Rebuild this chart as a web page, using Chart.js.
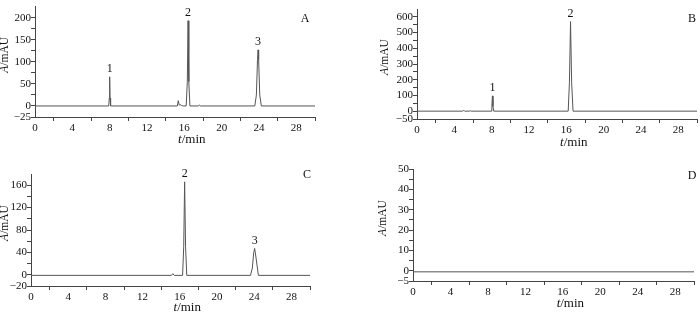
<!DOCTYPE html>
<html>
<head>
<meta charset="utf-8">
<script src="https://cdn.jsdelivr.net/npm/chart.js@4.4.1/dist/chart.umd.min.js"></script>
<style>
  body { margin: 0; background: #fff; }
  #wrap { position: relative; width: 700px; height: 313px; overflow: hidden; background: #fff; }
  canvas { position: absolute; }
  .tag { position: absolute; font: 12px "Liberation Serif", serif; color: #111; transform: translate(-50%, -50%); }
</style>
</head>
<body>
<div id="wrap">
  <canvas id="cA" width="332" height="150" style="left:-2px;top:0px"></canvas>
  <canvas id="cB" width="324" height="150" style="left:376px;top:0px"></canvas>
  <canvas id="cC" width="330" height="158" style="left:-2px;top:155px"></canvas>
  <canvas id="cD" width="324" height="158" style="left:376px;top:155px"></canvas>
  <div class="tag" style="left:305px;top:18px">A</div>
  <div class="tag" style="left:692px;top:18px">B</div>
  <div class="tag" style="left:307px;top:174px">C</div>
  <div class="tag" style="left:692px;top:175px">D</div>
</div>
<script>
// retention time (min) and absorbance (mAU)
const timesA  = [0, 7.9, 7.96, 8.0, 8.04, 8.1, 15.25, 15.35, 15.45, 15.55, 15.7, 15.9, 16.2, 16.32, 16.4, 16.48, 16.6, 17.5, 17.6, 17.7, 23.55, 23.72, 23.84, 23.9, 23.96, 24.08, 24.25, 30];
const valuesA = [0, 0, 18, 66, 18, 0, 0, 12, 2, 3, 1, 0, 0, 55, 193, 55, 0, 0, 2, 0, 0, 25, 105, 127, 105, 25, 0, 0];

const timesB  = [0, 4.9, 5.0, 5.1, 5.6, 5.7, 5.8, 7.95, 8.02, 8.08, 8.14, 8.22, 16.2, 16.33, 16.45, 16.57, 16.72, 30];
const valuesB = [0, 0, 6, 0, 0, 3, 0, 0, 30, 97, 30, 0, 0, 180, 570, 180, 0, 0];

const timesC  = [0, 15.1, 15.25, 15.4, 16.3, 16.42, 16.52, 16.62, 16.75, 23.6, 23.8, 23.95, 24.05, 24.2, 24.45, 30];
const valuesC = [-1, -1, 2, -1, -1, 50, 166, 50, -1, -1, 12, 40, 47, 30, -1, -1];

const timesD  = [0, 30];
const valuesD = [-0.5, -0.5];

// peak numbers
const peakNamesA = ['1', '2', '3'];
const peakTimesA = [8.0, 16.4, 23.9];
const peakTopsA  = [66, 193, 127];
const peakNamesB = ['1', '2'];
const peakTimesB = [8.08, 16.45];
const peakTopsB  = [97, 570];
const peakNamesC = ['2', '3'];
const peakTimesC = [16.52, 24.05];
const peakTopsC  = [166, 47];

// axis ticks
const xTickMarks = [0, 2, 4, 6, 8, 10, 12, 14, 16, 18, 20, 22, 24, 26, 28, 30];
const xTickLabels = [0, 4, 8, 12, 16, 20, 24, 28];
const yTickMarksA = [-25, 0, 25, 50, 75, 100, 125, 150, 175, 200];
const yTickLabelsA = [-25, 0, 50, 100, 150, 200];
const yTickMarksB = [-50, 0, 50, 100, 150, 200, 250, 300, 350, 400, 450, 500, 550, 600];
const yTickLabelsB = [-50, 0, 100, 200, 300, 400, 500, 600];
const yTickMarksC = [-20, 0, 20, 40, 60, 80, 100, 120, 140, 160];
const yTickLabelsC = [-20, 0, 40, 80, 120, 160];
const yTickMarksD = [-5, 0, 5, 10, 15, 20, 25, 30, 35, 40, 45, 50];
const yTickLabelsD = [-5, 0, 10, 20, 30, 40, 50];

const SERIF = '"Liberation Serif", serif';
const FONT = { family: SERIF, size: 11 };
const INK = '#111';
const AXIS = '#444';
const NONE = 'rgba(0,0,0,0)';

// draws a string made of an italic part followed by an upright part, centred on 0,0
function mixedText(ctx, ital, rest, size) {
  ctx.font = 'italic ' + size + 'px ' + SERIF;
  const w1 = ctx.measureText(ital).width;
  ctx.font = size + 'px ' + SERIF;
  const w2 = ctx.measureText(rest).width;
  const x0 = -(w1 + w2) / 2;
  ctx.textAlign = 'left';
  ctx.textBaseline = 'middle';
  ctx.font = 'italic ' + size + 'px ' + SERIF;
  ctx.fillText(ital, x0, 0);
  ctx.font = size + 'px ' + SERIF;
  ctx.fillText(rest, x0 + w1, 0);
}

const annotations = {
  id: 'annotations',
  afterDraw(chart, args, opts) {
    const ctx = chart.ctx, xs = chart.scales.x, ys = chart.scales.y;
    ctx.save();
    ctx.fillStyle = INK;
    if (opts.names) {
      ctx.font = '12px ' + SERIF;
      ctx.textAlign = 'center';
      ctx.textBaseline = 'bottom';
      opts.names.forEach((n, i) => {
        ctx.fillText(n, xs.getPixelForValue(opts.times[i]), ys.getPixelForValue(opts.tops[i]) - 2);
      });
    }
    // axis titles
    const ca = chart.chartArea;
    ctx.save();
    ctx.translate(opts.yTitleX, (ca.top + ca.bottom) / 2 - 7);
    ctx.rotate(-Math.PI / 2);
    mixedText(ctx, 'A', '/mAU', 11.5);
    ctx.restore();
    ctx.save();
    ctx.translate(ca.left + (ca.right - ca.left) * 0.56, opts.xTitleY);
    mixedText(ctx, 't', '/min', 13);
    ctx.restore();
    ctx.restore();
  }
};

function fmt(v) {
  return v < 0 ? '\u2212' + Math.abs(v) : String(v);
}

function makeChart(id, times, values, p) {
  const pts = times.map((t, i) => ({ x: t, y: values[i] }));
  return new Chart(document.getElementById(id), {
    type: 'line',
    data: { datasets: [{ data: pts, borderColor: '#555', borderWidth: 1, pointRadius: 0, tension: 0, fill: false }] },
    plugins: [annotations],
    options: {
      responsive: false,
      animation: false,
      events: [],
      layout: { padding: { top: p.padTop, right: p.padRight, left: 0, bottom: 0 } },
      plugins: {
        legend: { display: false },
        tooltip: { enabled: false },
        annotations: { names: p.names, times: p.ptimes, tops: p.tops, yTitleX: p.yTitleX, xTitleY: p.xTitleY }
      },
      scales: {
        x: {
          type: 'linear', min: 0, max: 30,
          afterBuildTicks: s => { s.ticks = xTickMarks.map(v => ({ value: v })); },
          afterFit: s => { s.height = p.xH; },
          ticks: { autoSkip: false, maxRotation: 0, padding: 1, color: INK, font: FONT,
                   callback: v => xTickLabels.includes(v) ? fmt(v) : '' },
          grid: { drawOnChartArea: false, tickLength: 4,
                  color: c => (c.tick && xTickLabels.includes(c.tick.value)) ? NONE : AXIS },
          border: { color: AXIS }
        },
        y: {
          type: 'linear', min: p.yMin, max: p.yMax,
          afterBuildTicks: s => { s.ticks = p.marks.map(v => ({ value: v })); },
          afterFit: s => { s.width = p.yW; },
          ticks: { autoSkip: false, padding: 0, color: INK, font: FONT,
                   callback: v => p.labels.includes(v) ? fmt(v) : '' },
          grid: { drawOnChartArea: false, tickLength: 4, color: AXIS },
          border: { color: AXIS }
        }
      }
    }
  });
}

makeChart('cA', timesA, valuesA, { yMin: -25, yMax: 225, marks: yTickMarksA, labels: yTickLabelsA,
  yW: 37, xH: 33, padTop: 4, padRight: 15, names: peakNamesA, ptimes: peakTimesA, tops: peakTopsA,
  yTitleX: 7, xTitleY: 140 });
makeChart('cB', timesB, valuesB, { yMin: -50, yMax: 650, marks: yTickMarksB, labels: yTickLabelsB,
  yW: 41, xH: 31, padTop: 9, padRight: 3, names: peakNamesB, ptimes: peakTimesB, tops: peakTopsB,
  yTitleX: 9, xTitleY: 143 });
makeChart('cC', timesC, valuesC, { yMin: -20, yMax: 180, marks: yTickMarksC, labels: yTickLabelsC,
  yW: 33, xH: 27, padTop: 19, padRight: 18, names: peakNamesC, ptimes: peakTimesC, tops: peakTopsC,
  yTitleX: 7, xTitleY: 153 });
makeChart('cD', timesD, valuesD, { yMin: -5, yMax: 50, marks: yTickMarksD, labels: yTickLabelsD,
  yW: 37, xH: 32, padTop: 14, padRight: 6, yTitleX: 7, xTitleY: 149 });
</script>
</body>
</html>
